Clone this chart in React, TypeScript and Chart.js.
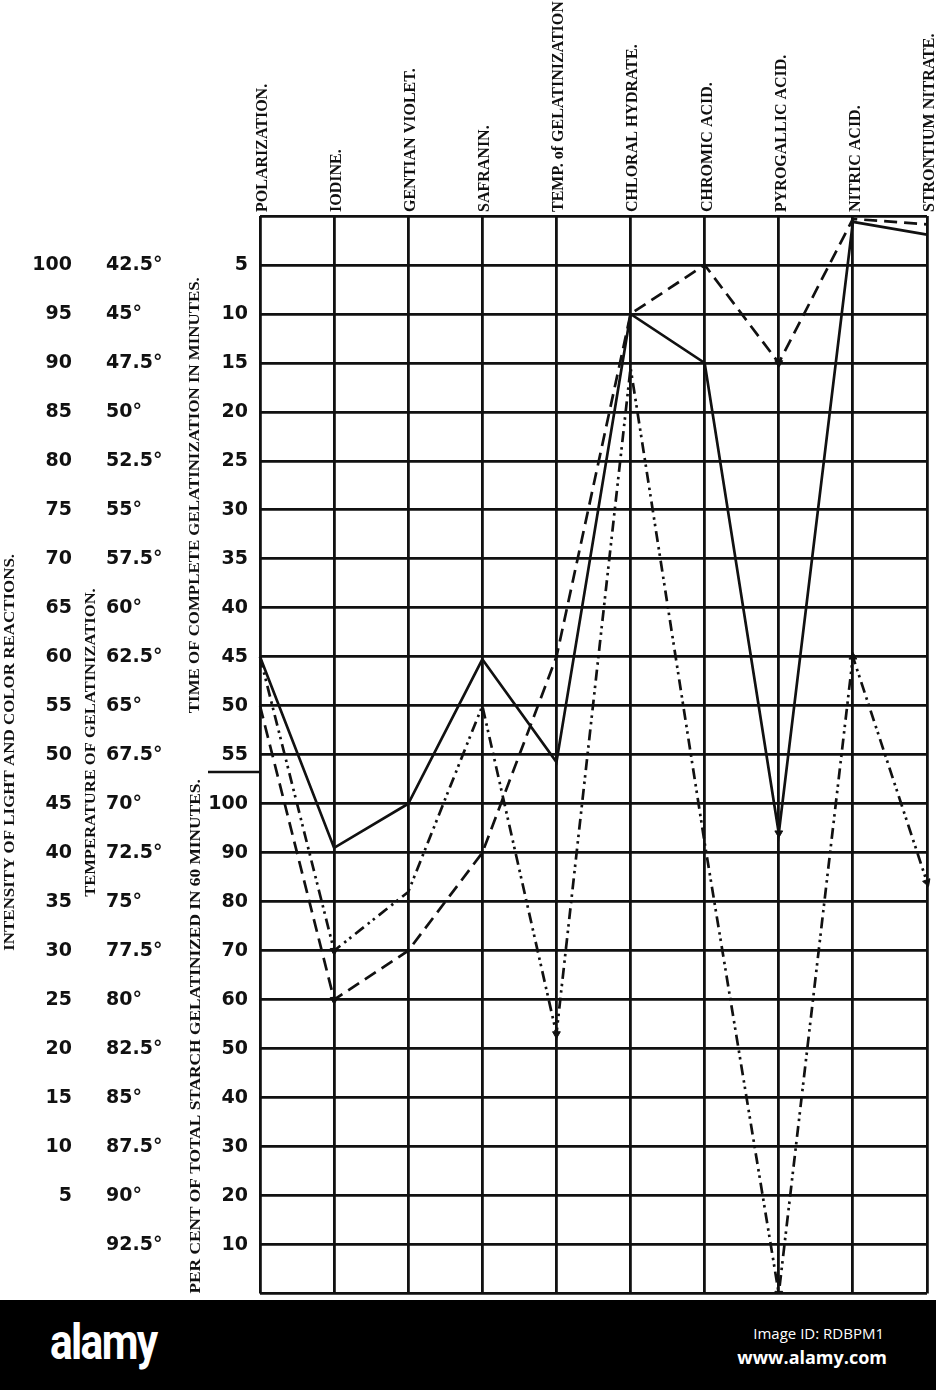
import React, { useEffect, useRef } from 'react';
import { Chart, registerables } from 'chart.js';

Chart.register(...registerables);

// ---- data (row units: 0 = top border of the grid, 22 = bottom border) ----
const categories = [
  'POLARIZATION.',
  'IODINE.',
  'GENTIAN VIOLET.',
  'SAFRANIN.',
  'TEMP. of GELATINIZATION',
  'CHLORAL HYDRATE.',
  'CHROMIC ACID.',
  'PYROGALLIC ACID.',
  'NITRIC ACID.',
  'STRONTIUM NITRATE.',
];

const solidSeries = [9, 12.9, 12, 9.05, 11.15, 2, 3, 12.6, 0.12, 0.38];
const dashedSeries = [10, 16, 15, 13, 9, 2, 1, 3, 0.06, 0.17];
const dashDotSeries = [9, 15, 13.8, 10, 16.7, 3.1, 12.8, 22, 9, 13.6];

// tick labels, one per grid row (index = row)
const timeTicks = [
  '', '5', '10', '15', '20', '25', '30', '35', '40', '45', '50', '55',
  '100', '90', '80', '70', '60', '50', '40', '30', '20', '10', '',
];
const intensityTicks = [
  '', '100', '95', '90', '85', '80', '75', '70', '65', '60', '55', '50',
  '45', '40', '35', '30', '25', '20', '15', '10', '5', '', '',
];
const temperatureTicks = [
  '', '42.5°', '45°', '47.5°', '50°', '52.5°', '55°', '57.5°', '60°', '62.5°', '65°', '67.5°',
  '70°', '72.5°', '75°', '77.5°', '80°', '82.5°', '85°', '87.5°', '90°', '92.5°', '',
];

const intensityTitle = 'INTENSITY OF LIGHT AND COLOR REACTIONS.';
const temperatureTitle = 'TEMPERATURE OF GELATINIZATION.';
const timeTitle = 'TIME OF COMPLETE GELATINIZATION IN MINUTES.';
const percentTitle = 'PER CENT OF TOTAL STARCH GELATINIZED IN 60 MINUTES.';

// arrow tips (index -> rotation in degrees)
const solidArrows: Record<number, number> = { 7: 180 };
const dashedArrows: Record<number, number> = { 1: 180, 7: 180 };
const dashDotArrows: Record<number, number> = { 1: 180, 4: 180, 7: 180, 8: 0, 9: 160 };

const INK = '#111';
const TICK_FONT = { family: '"DejaVu Sans", sans-serif', weight: 'bold' as const, size: 19 };

const sideTitlesPlugin = {
  id: 'sideTitles',
  afterDraw(chart: any) {
    const ctx: CanvasRenderingContext2D = chart.ctx;
    const ys = chart.scales.y;
    const area = chart.chartArea;
    ctx.save();
    ctx.fillStyle = INK;
    ctx.strokeStyle = INK;
    const draw = (text: string, x: number, r0: number, r1: number) => {
      const y0 = ys.getPixelForValue(r0);
      const y1 = ys.getPixelForValue(r1);
      const len = Math.abs(y1 - y0);
      ctx.save();
      ctx.font = 'bold 15px "Liberation Serif", serif';
      const w = ctx.measureText(text).width;
      ctx.translate(x, (y0 + y1) / 2);
      ctx.rotate(-Math.PI / 2);
      ctx.scale(len / w, 1);
      ctx.textAlign = 'center';
      ctx.textBaseline = 'middle';
      ctx.fillText(text, 0, 0);
      ctx.restore();
    };
    draw(intensityTitle, 10, 6.9, 15.0);
    draw(temperatureTitle, 91, 7.6, 13.9);
    draw(timeTitle, 195, 1.25, 10.15);
    draw(percentTitle, 196, 11.5, 22);
    // separator between the two right-hand scales
    const ySep = ys.getPixelForValue(11.35);
    ctx.lineWidth = 2.5;
    ctx.beginPath();
    ctx.moveTo(208, ySep);
    ctx.lineTo(area.left, ySep);
    ctx.stroke();
    ctx.restore();
  },
};

function arrowRadius(map: Record<number, number>) {
  return (c: any) => (map[c.dataIndex] !== undefined ? 4.5 : 0);
}
function arrowRotation(map: Record<number, number>) {
  return (c: any) => map[c.dataIndex] ?? 0;
}

export default function App() {
  const canvasRef = useRef<HTMLCanvasElement | null>(null);

  useEffect(() => {
    document.body.style.margin = '0';
    const canvas = canvasRef.current;
    if (!canvas) return;
    const lineCommon = {
      borderColor: INK,
      backgroundColor: INK,
      borderWidth: 2.7,
      fill: false,
      tension: 0,
      pointStyle: 'triangle' as const,
      pointBorderWidth: 1,
      pointBorderColor: INK,
      pointBackgroundColor: INK,
      yAxisID: 'y',
    };
    const yCommon = {
      type: 'linear' as const,
      position: 'left' as const,
      min: 0,
      max: 22,
      reverse: true,
    };
    const chart = new Chart(canvas, {
      type: 'line',
      data: {
        labels: categories,
        datasets: [
          {
            ...lineCommon,
            label: 'solid',
            data: solidSeries,
            pointRadius: arrowRadius(solidArrows),
            pointRotation: arrowRotation(solidArrows),
          },
          {
            ...lineCommon,
            label: 'dashed',
            data: dashedSeries,
            borderDash: [13, 7],
            pointRadius: arrowRadius(dashedArrows),
            pointRotation: arrowRotation(dashedArrows),
          },
          {
            ...lineCommon,
            label: 'dash-dot',
            data: dashDotSeries,
            borderDash: [11, 5, 2.5, 4, 2.5, 5],
            pointRadius: arrowRadius(dashDotArrows),
            pointRotation: arrowRotation(dashDotArrows),
          },
        ],
      },
      options: {
        animation: false,
        responsive: false,
        maintainAspectRatio: false,
        layout: { padding: { left: 0, right: 9, top: 0, bottom: 0 } },
        plugins: {
          legend: { display: false },
          tooltip: { enabled: false },
        },
        scales: {
          x: {
            type: 'category',
            position: 'top',
            offset: false,
            grid: { color: INK, lineWidth: 2.8, drawTicks: false },
            border: { display: false },
            ticks: {
              autoSkip: false,
              minRotation: 90,
              maxRotation: 90,
              padding: 4,
              labelOffset: 22,
              color: INK,
              font: { family: '"Liberation Serif", serif', weight: 'bold', size: 16 },
            },
            afterFit: (s: any) => {
              s.height = 216;
            },
          },
          yInt: {
            ...yCommon,
            weight: 2,
            grid: { display: false, drawTicks: false },
            border: { display: false },
            ticks: {
              stepSize: 1,
              autoSkip: false,
              padding: 34,
              color: INK,
              font: TICK_FONT,
              callback: (v: any) => intensityTicks[Math.round(v)] ?? '',
            },
            afterFit: (s: any) => {
              s.width = 106;
            },
          },
          yTemp: {
            ...yCommon,
            weight: 1,
            grid: { display: false, drawTicks: false },
            border: { display: false },
            ticks: {
              stepSize: 1,
              autoSkip: false,
              crossAlign: 'far',
              padding: 0,
              color: INK,
              font: TICK_FONT,
              callback: (v: any) => temperatureTicks[Math.round(v)] ?? '',
            },
            afterFit: (s: any) => {
              s.width = 79;
            },
          },
          y: {
            ...yCommon,
            weight: 0,
            grid: { color: INK, lineWidth: 2.8, drawTicks: false },
            border: { display: false },
            ticks: {
              stepSize: 1,
              autoSkip: false,
              padding: 12,
              color: INK,
              font: TICK_FONT,
              callback: (v: any) => timeTicks[Math.round(v)] ?? '',
            },
            afterFit: (s: any) => {
              s.width = 75;
            },
          },
        },
      } as any,
      plugins: [sideTitlesPlugin],
    });
    return () => chart.destroy();
  }, []);

  return (
    <div style={{ position: 'relative', width: 936, height: 1390, background: '#fff', overflow: 'hidden' }}>
      <canvas
        ref={canvasRef}
        width={936}
        height={1339}
        style={{ position: 'absolute', left: 0, top: 0, width: 936, height: 1339 }}
      />
      <div style={{ position: 'absolute', left: 0, top: 1300, width: 936, height: 90, background: '#000' }}>
        <div
          style={{
            position: 'absolute',
            left: 50,
            top: 12,
            color: '#fff',
            font: 'bold 50px Roboto, sans-serif',
            lineHeight: '60px',
            letterSpacing: '-2px',
            transform: 'scaleX(0.85)',
            transformOrigin: 'left center',
          }}
        >
          alamy
        </div>
        <div
          style={{
            position: 'absolute',
            right: 52,
            top: 23,
            color: '#fff',
            font: '15px "Open Sans", sans-serif',
            lineHeight: '20px',
          }}
        >
          Image ID: RDBPM1
        </div>
        <div
          style={{
            position: 'absolute',
            right: 49,
            top: 46,
            color: '#fff',
            font: 'bold 18px "Open Sans", sans-serif',
            lineHeight: '22px',
          }}
        >
          www.alamy.com
        </div>
      </div>
    </div>
  );
}
